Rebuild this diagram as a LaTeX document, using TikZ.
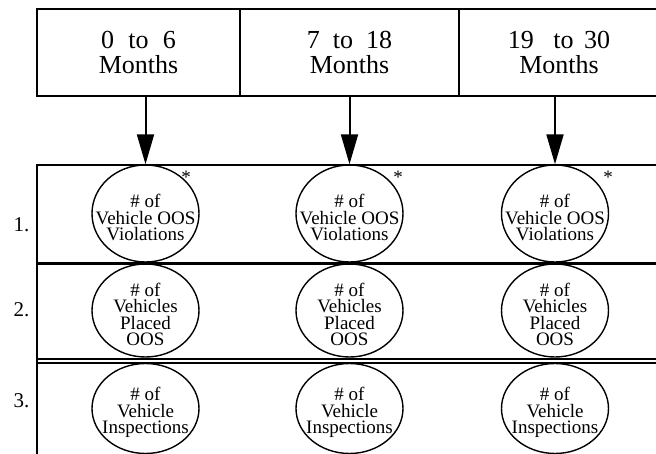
\documentclass[tikz,border=0pt]{standalone}
\usepackage{fontspec}
\setmainfont{Liberation Serif}
\usetikzlibrary{arrows.meta,shapes.geometric}

\tikzset{
  frame/.style={line width=2pt},
  cell/.style={draw, line width=2pt, rectangle, inner sep=0pt,
    minimum height=87pt, align=center,
    font=\fontsize{26}{25}\selectfont},
  oval/.style={draw, ellipse, line width=1.4pt, inner sep=0pt,
    minimum width=107pt},
  ovaltext/.style={inner sep=0pt, align=center, yshift=-4pt,
    font=\fontsize{19}{16.5}\selectfont},
  rowlabel/.style={anchor=base, font=\fontsize{21}{21}\selectfont},
  astx/.style={anchor=base, inner sep=0pt, font=\fontsize{19}{19}\selectfont},
  arr/.style={line width=2pt, -{Triangle[length=30pt,width=17pt]}}
}

\begin{document}
\begin{tikzpicture}[x=1pt,y=-1pt]
\useasboundingbox (0,0) rectangle (656,454);

% period header cells
\node[cell, minimum width=203pt] (m1) at (138.5,52.5) {0\hspace{0.55em}to\hspace{0.55em}6\\Months};
\node[cell, minimum width=219pt] (m2) at (349.5,52.5) {7\hspace{0.5em}to\hspace{0.5em}18\\Months};
\node[cell, minimum width=200pt] (m3) at (559,52.5) {19\hspace{0.75em}to\hspace{0.4em}30\\Months};

% measure table frame
\draw[frame] (37,165) -- (660,165);
\draw[line width=3pt] (37,263.5) -- (660,263.5);
\draw[line width=1.6pt] (37,359) -- (660,359);
\draw[line width=1.6pt] (37,363) -- (660,363);
\draw[frame] (37,164) -- (37,456);

% row numbers
\node[rowlabel] (n1) at (21.5,232) {1.};
\node[rowlabel] (n2) at (21.5,317) {2.};
\node[rowlabel] (n3) at (21.5,407) {3.};

% row 1: vehicle OOS violations
\foreach \c/\x in {1/145.5, 2/349.5, 3/555} {
  \node[oval, minimum height=97pt] (a\c) at (\x,213.5) {};
  \node[ovaltext] (ta\c) at (a\c) {\# of\\Vehicle OOS\\Violations};
}

% row 2: vehicles placed OOS
\foreach \c/\x in {1/145.5, 2/349.5, 3/555} {
  \node[oval, minimum height=93pt] (b\c) at (\x,310.5) {};
  \node[ovaltext] (tb\c) at (b\c) {\# of\\Vehicles\\Placed\\OOS};
}

% row 3: vehicle inspections
\foreach \c/\x in {1/145.5, 2/349.5, 3/555} {
  \node[oval, minimum height=90pt] (c\c) at (\x,408.5) {};
  \node[ovaltext] (tc\c) at (c\c) {\# of\\Vehicle\\Inspections};
}

% asterisks on row 1
\node[astx] (s1) at (186,184) {*};
\node[astx] (s2) at (398,184) {*};
\node[astx] (s3) at (608,184) {*};

% arrows from the periods to the measures
\draw[arr] (m1.south -| a1.north) -- (a1.north);
\draw[arr] (m2.south -| a2.north) -- (a2.north);
\draw[arr] (m3.south -| a3.north) -- (a3.north);
\end{tikzpicture}
\end{document}
